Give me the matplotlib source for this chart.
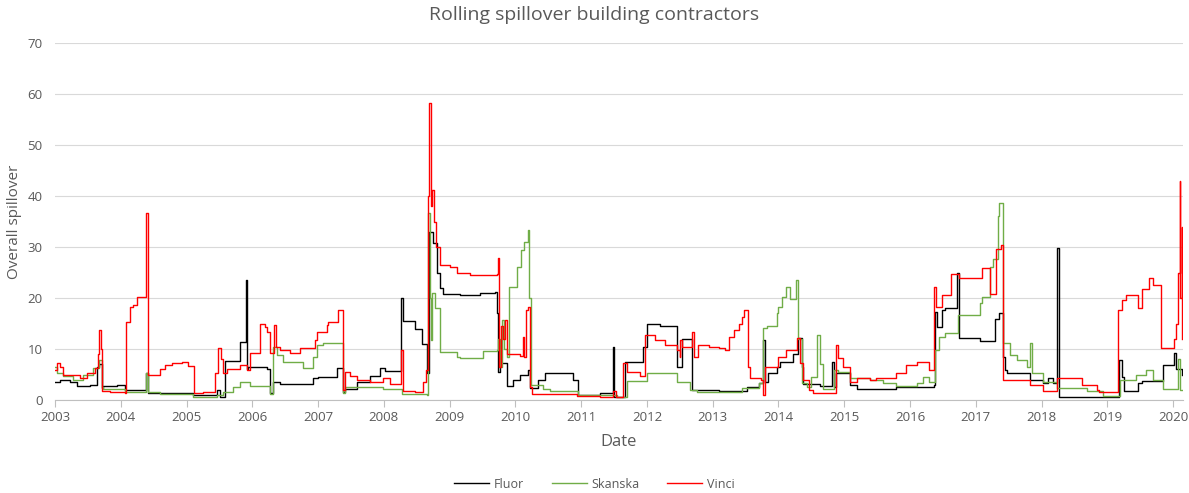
import matplotlib
matplotlib.use("Agg")
import matplotlib.pyplot as plt

# ---- data (decimal year, value) ----
fluor_t = [2003.00, 2003.08, 2003.23, 2003.33, 2003.53, 2003.64, 2003.67, 2003.71, 2003.73, 2003.94,
           2004.06, 2004.38, 2004.41, 2005.10, 2005.46, 2005.51, 2005.58, 2005.81, 2005.90, 2005.92,
           2005.93, 2006.22, 2006.27, 2006.31, 2006.42, 2006.92, 2007.00, 2007.29, 2007.38, 2007.41,
           2007.59, 2007.79, 2007.94, 2008.02, 2008.26, 2008.29, 2008.47, 2008.58, 2008.65, 2008.68,
           2008.74, 2008.81, 2008.85, 2008.90, 2009.16, 2009.46, 2009.69, 2009.72, 2009.73, 2009.76,
           2009.87, 2009.96, 2010.07, 2010.19, 2010.22, 2010.34, 2010.45, 2010.87, 2010.95, 2011.28,
           2011.48, 2011.50, 2011.66, 2011.94, 2012.00, 2012.20, 2012.45, 2012.53, 2012.68, 2013.10,
           2013.52, 2013.71, 2013.76, 2013.79, 2013.84, 2013.97, 2014.02, 2014.22, 2014.29, 2014.35,
           2014.37, 2014.63, 2014.81, 2014.84, 2014.88, 2015.08, 2015.19, 2015.79, 2016.37, 2016.38,
           2016.41, 2016.48, 2016.53, 2016.71, 2016.75, 2017.06, 2017.29, 2017.36, 2017.41, 2017.44,
           2017.48, 2017.82, 2018.02, 2018.09, 2018.17, 2018.23, 2018.26, 2018.27, 2019.14, 2019.17,
           2019.22, 2019.26, 2019.46, 2019.53, 2019.84, 2020.02, 2020.05, 2020.14]
fluor_v = [3.6, 3.9, 3.6, 2.7, 3.0, 6.5, 7.0, 2.3, 2.8, 3.0,
           2.0, 5.3, 1.3, 0.9, 2.0, 0.6, 7.6, 11.4, 23.5, 6.0,
           6.5, 6.0, 1.4, 3.6, 3.2, 4.3, 4.5, 6.2, 1.6, 2.2,
           3.6, 4.7, 6.2, 5.6, 20.0, 15.5, 14.0, 11.0, 5.3, 33.0,
           30.7, 25.0, 22.0, 20.7, 20.5, 20.9, 21.2, 17.0, 5.5, 7.2,
           2.8, 4.0, 5.0, 5.9, 2.4, 4.0, 5.3, 4.0, 1.0, 1.3,
           10.4, 0.6, 7.5, 10.4, 15.0, 14.5, 6.5, 12.0, 2.0, 1.7,
           2.5, 3.3, 11.8, 3.6, 5.2, 6.5, 7.4, 9.0, 12.2, 6.5,
           3.2, 2.8, 7.5, 2.5, 5.2, 2.9, 2.1, 2.6, 3.0, 17.3,
           14.3, 17.6, 18.0, 25.0, 12.2, 11.6, 15.9, 17.0, 8.4, 5.9,
           5.2, 4.0, 3.3, 4.3, 3.3, 29.8, 15.0, 0.5, 0.6, 7.8,
           4.5, 1.7, 3.3, 3.8, 6.8, 9.2, 6.0, 5.0]

skanska_t = [2003.00, 2003.03, 2003.12, 2003.27, 2003.43, 2003.58, 2003.67, 2003.71, 2003.73, 2004.06,
             2004.38, 2004.41, 2004.60, 2005.10, 2005.46, 2005.55, 2005.70, 2005.81, 2005.96, 2006.27,
             2006.31, 2006.37, 2006.47, 2006.77, 2006.92, 2006.98, 2007.07, 2007.29, 2007.38, 2007.41,
             2007.79, 2007.98, 2008.27, 2008.65, 2008.67, 2008.70, 2008.71, 2008.73, 2008.78, 2008.85,
             2009.11, 2009.16, 2009.50, 2009.72, 2009.73, 2009.76, 2009.79, 2009.82, 2009.87, 2009.91,
             2010.02, 2010.08, 2010.13, 2010.19, 2010.20, 2010.23, 2010.42, 2010.52, 2010.95, 2011.54,
             2011.69, 2012.00, 2012.45, 2012.65, 2012.76, 2013.45, 2013.71, 2013.76, 2013.82, 2013.97,
             2013.99, 2014.05, 2014.12, 2014.17, 2014.26, 2014.29, 2014.35, 2014.43, 2014.50, 2014.58,
             2014.63, 2014.67, 2014.85, 2014.90, 2015.08, 2015.39, 2015.59, 2015.79, 2016.10, 2016.19,
             2016.29, 2016.38, 2016.44, 2016.53, 2016.73, 2017.06, 2017.10, 2017.21, 2017.26, 2017.33,
             2017.36, 2017.41, 2017.52, 2017.62, 2017.78, 2017.82, 2017.85, 2018.02, 2018.23, 2018.69,
             2018.94, 2019.19, 2019.43, 2019.58, 2019.69, 2019.84, 2020.07, 2020.10, 2020.14]
skanska_v = [6.5, 5.3, 4.7, 3.9, 5.0, 6.2, 7.8, 2.5, 2.1, 1.5,
             5.3, 1.6, 1.2, 0.6, 1.0, 1.6, 2.5, 3.5, 2.8, 1.2,
             10.4, 8.8, 7.5, 6.2, 8.4, 10.8, 11.1, 11.1, 1.4, 2.6,
             2.5, 2.1, 1.2, 1.0, 36.6, 20.0, 11.8, 21.0, 18.0, 9.4,
             8.4, 8.2, 9.6, 9.8, 12.0, 6.5, 15.7, 10.0, 8.4, 22.2,
             26.0, 29.4, 31.0, 33.3, 20.0, 3.0, 2.2, 1.8, 0.9, 0.6,
             3.7, 5.3, 3.6, 2.0, 1.6, 2.3, 3.3, 14.1, 14.5, 17.0,
             18.3, 20.2, 22.2, 19.9, 23.5, 12.0, 3.3, 2.5, 4.5, 12.7,
             7.0, 2.1, 5.9, 5.5, 4.4, 4.0, 3.3, 2.7, 3.3, 4.5,
             3.6, 9.8, 12.4, 13.2, 16.7, 19.0, 20.2, 26.0, 27.7, 36.0,
             38.6, 11.1, 8.8, 7.8, 6.5, 11.1, 5.2, 3.6, 2.4, 1.8,
             0.8, 4.0, 4.9, 5.9, 4.0, 2.2, 8.0, 2.0, 2.0]

vinci_t = [2003.00, 2003.03, 2003.08, 2003.12, 2003.27, 2003.38, 2003.49, 2003.61, 2003.65, 2003.67,
           2003.70, 2003.71, 2003.84, 2004.06, 2004.08, 2004.14, 2004.19, 2004.25, 2004.38, 2004.41,
           2004.60, 2004.67, 2004.78, 2004.93, 2005.02, 2005.11, 2005.25, 2005.43, 2005.48, 2005.52,
           2005.55, 2005.61, 2005.81, 2005.92, 2005.96, 2006.12, 2006.19, 2006.22, 2006.27, 2006.33,
           2006.36, 2006.42, 2006.57, 2006.72, 2006.95, 2006.98, 2007.13, 2007.15, 2007.30, 2007.38,
           2007.41, 2007.48, 2007.59, 2007.79, 2007.98, 2008.09, 2008.26, 2008.29, 2008.47, 2008.59,
           2008.64, 2008.67, 2008.68, 2008.71, 2008.73, 2008.76, 2008.79, 2008.85, 2009.00, 2009.11,
           2009.31, 2009.72, 2009.73, 2009.75, 2009.78, 2009.81, 2009.84, 2009.87, 2010.07, 2010.11,
           2010.13, 2010.16, 2010.19, 2010.22, 2010.25, 2010.93, 2011.28, 2011.48, 2011.53, 2011.63,
           2011.69, 2011.89, 2011.97, 2012.12, 2012.27, 2012.45, 2012.50, 2012.51, 2012.54, 2012.68,
           2012.71, 2012.77, 2012.95, 2013.10, 2013.18, 2013.25, 2013.33, 2013.40, 2013.45, 2013.48,
           2013.53, 2013.56, 2013.74, 2013.76, 2013.79, 2013.99, 2014.12, 2014.28, 2014.32, 2014.37,
           2014.47, 2014.52, 2014.82, 2014.87, 2014.90, 2014.98, 2015.08, 2015.19, 2015.39, 2015.48,
           2015.79, 2015.94, 2016.10, 2016.29, 2016.37, 2016.40, 2016.49, 2016.63, 2016.75, 2017.10,
           2017.21, 2017.31, 2017.39, 2017.41, 2017.82, 2018.02, 2018.24, 2018.62, 2018.84, 2018.88,
           2019.16, 2019.22, 2019.29, 2019.46, 2019.53, 2019.64, 2019.69, 2019.82, 2020.02, 2020.05,
           2020.08, 2020.10, 2020.11, 2020.13, 2020.14]
vinci_v = [5.9, 7.2, 6.5, 5.0, 5.0, 4.4, 5.2, 6.3, 9.0, 13.7,
           10.0, 1.8, 1.5, 1.4, 15.3, 18.3, 18.6, 20.2, 36.6, 4.9,
           6.0, 6.9, 7.2, 7.4, 6.7, 1.4, 1.5, 5.3, 10.2, 8.0,
           5.3, 6.0, 6.9, 5.9, 9.2, 15.0, 14.3, 13.4, 9.2, 14.7,
           10.4, 9.8, 9.3, 10.2, 11.8, 13.3, 14.7, 15.3, 17.6, 2.0,
           5.5, 4.8, 4.0, 3.6, 4.3, 3.2, 9.8, 1.8, 1.6, 3.5,
           5.9, 40.0, 58.2, 38.0, 41.2, 35.0, 30.0, 26.5, 26.0, 25.0,
           24.5, 24.8, 27.8, 6.5, 14.5, 12.0, 15.7, 9.0, 8.6, 12.4,
           8.4, 17.6, 18.3, 2.5, 1.2, 0.8, 0.6, 1.8, 0.5, 7.2,
           5.5, 4.8, 12.7, 11.8, 10.8, 9.8, 8.4, 11.8, 10.4, 13.3,
           8.4, 10.8, 10.4, 10.2, 9.8, 12.4, 13.8, 15.0, 16.3, 17.6,
           6.5, 4.3, 4.0, 1.0, 6.5, 8.4, 9.8, 12.2, 7.2, 4.0,
           2.0, 1.3, 1.4, 10.8, 8.2, 6.5, 3.6, 4.3, 4.0, 4.3,
           5.3, 6.9, 7.5, 5.9, 22.2, 18.3, 20.6, 24.7, 24.0, 25.8,
           20.8, 29.7, 30.4, 4.0, 3.0, 1.7, 4.3, 2.9, 2.0, 1.6,
           17.6, 19.6, 20.6, 18.0, 21.8, 24.0, 22.6, 10.2, 12.0, 15.0,
           25.0, 43.0, 20.0, 34.0, 12.0]

years = list(range(2003, 2021))
yticks = list(range(0, 80, 10))

# ---- figure ----
plt.rcParams['font.family'] = ['Open Sans', 'DejaVu Sans']
fig = plt.figure(figsize=(11.89, 4.93), dpi=100)
ax = fig.add_axes([55/1189, 93/493, (1183-55)/1189, (400-43)/493])

gray = '#595959'
ax.plot(fluor_t, fluor_v, drawstyle='steps-post', color='#000000', lw=1.0, label='Fluor')
ax.plot(skanska_t, skanska_v, drawstyle='steps-post', color='#70AD47', lw=1.0, label='Skanska')
ax.plot(vinci_t, vinci_v, drawstyle='steps-post', color='#FF0000', lw=1.0, label='Vinci')

ax.set_xlim(2003.0, 2020.15)
ax.set_ylim(0, 70)
ax.set_xticks(years)
ax.set_xticklabels([str(y) for y in years])
ax.set_yticks(yticks)
ax.grid(axis='y', color='#d9d9d9', lw=0.8)
ax.set_axisbelow(True)
for s in ['top', 'right', 'left']:
    ax.spines[s].set_visible(False)
ax.spines['bottom'].set_color('#bfbfbf')
ax.tick_params(axis='x', colors='#bfbfbf', length=5, labelcolor=gray, labelsize=9.5, pad=3)
ax.tick_params(axis='y', length=0, labelcolor=gray, labelsize=9.5, pad=9)

ax.set_xlabel('Date', color=gray, fontsize=12, labelpad=7)
ax.set_ylabel('Overall spillover', color=gray, fontsize=11)
ax.yaxis.set_label_coords(-0.029, 0.5)
fig.suptitle('Rolling spillover building contractors', color=gray, fontsize=14, y=0.988)

fig.legend(loc='lower center', bbox_to_anchor=(0.5, -0.018), ncol=3, frameon=False,
           fontsize=9, handlelength=2.8, handletextpad=0.4, columnspacing=2.2, labelcolor=gray)

fig.savefig('out.png', dpi=100)
